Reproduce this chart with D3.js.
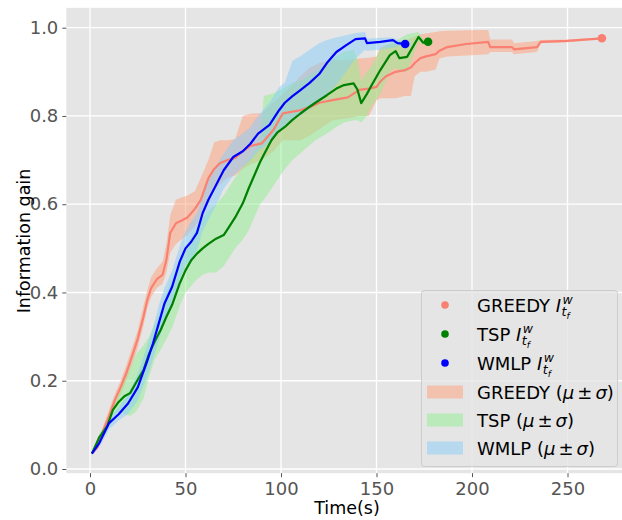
<!DOCTYPE html>
<html>
<head>
<meta charset="utf-8">
<script src="https://cdn.jsdelivr.net/npm/d3@7"></script>
<style>
  body { margin: 0; background: #fff; }
  text { font-family: "DejaVu Sans", sans-serif; }
</style>
</head>
<body>
<svg id="chart" width="622" height="520"></svg>
<script>
// values: time (s), mean, mean - sigma, mean + sigma
const greedyT    = [1, 4, 7, 10, 13, 16, 19, 22, 25, 28, 30, 32, 35, 38, 40, 42, 45, 48, 51, 55, 58, 62, 65, 68, 72, 76, 80, 84, 90, 96, 101, 106, 110, 115, 120, 127, 135, 141, 146, 150, 152, 155, 160, 165, 168, 170, 173, 176, 181, 183, 187, 197, 208.5, 209.5, 221, 222, 234, 236, 250, 268];
const greedyMean = [0.035, 0.05, 0.088, 0.12, 0.156, 0.185, 0.217, 0.255, 0.295, 0.345, 0.383, 0.41, 0.43, 0.44, 0.474, 0.535, 0.557, 0.563, 0.57, 0.59, 0.61, 0.659, 0.68, 0.693, 0.7, 0.705, 0.72, 0.732, 0.738, 0.768, 0.806, 0.81, 0.813, 0.82, 0.83, 0.836, 0.842, 0.859, 0.862, 0.866, 0.878, 0.89, 0.9, 0.904, 0.91, 0.92, 0.931, 0.935, 0.94, 0.948, 0.956, 0.963, 0.968, 0.956, 0.956, 0.951, 0.956, 0.968, 0.97, 0.976];
const greedyLo   = [0.033, 0.045, 0.075, 0.105, 0.14, 0.168, 0.2, 0.235, 0.275, 0.325, 0.365, 0.39, 0.41, 0.42, 0.445, 0.49, 0.51, 0.52, 0.53, 0.55, 0.57, 0.61, 0.63, 0.645, 0.66, 0.665, 0.68, 0.69, 0.7, 0.72, 0.745, 0.745, 0.745, 0.755, 0.77, 0.79, 0.795, 0.8, 0.8, 0.835, 0.84, 0.84, 0.84, 0.845, 0.845, 0.89, 0.9, 0.9, 0.905, 0.93, 0.935, 0.937, 0.94, 0.945, 0.945, 0.94, 0.945, 0.965, 0.967, 0.974];
const greedyHi   = [0.037, 0.056, 0.098, 0.135, 0.17, 0.2, 0.235, 0.275, 0.315, 0.37, 0.405, 0.435, 0.455, 0.47, 0.51, 0.575, 0.61, 0.615, 0.62, 0.63, 0.66, 0.7, 0.74, 0.745, 0.745, 0.748, 0.8, 0.805, 0.806, 0.83, 0.85, 0.87, 0.89, 0.91, 0.92, 0.927, 0.927, 0.93, 0.932, 0.935, 0.955, 0.96, 0.965, 0.972, 0.976, 0.98, 0.985, 0.987, 0.99, 0.992, 0.993, 0.994, 0.995, 0.973, 0.973, 0.965, 0.97, 0.972, 0.973, 0.978];

const tspT    = [1, 5, 9, 12, 15, 18, 21, 24, 28, 31, 34, 37, 40, 43, 47, 50, 53, 56, 59, 62, 66, 70, 73, 76, 80, 83, 86, 89, 91, 95, 98, 102, 106, 110, 114, 118, 124, 129, 133, 138, 140, 142, 145, 147, 152, 157, 160, 162, 166, 172, 174.5, 177];
const tspMean = [0.035, 0.073, 0.097, 0.134, 0.152, 0.165, 0.172, 0.195, 0.224, 0.262, 0.29, 0.315, 0.345, 0.372, 0.421, 0.45, 0.473, 0.488, 0.5, 0.51, 0.522, 0.53, 0.55, 0.57, 0.602, 0.635, 0.665, 0.695, 0.712, 0.745, 0.762, 0.775, 0.791, 0.805, 0.818, 0.83, 0.847, 0.862, 0.87, 0.874, 0.86, 0.829, 0.85, 0.866, 0.904, 0.938, 0.947, 0.931, 0.934, 0.979, 0.966, 0.968];
const tspLo   = [0.033, 0.065, 0.085, 0.12, 0.13, 0.125, 0.12, 0.13, 0.16, 0.21, 0.25, 0.27, 0.295, 0.32, 0.37, 0.4, 0.415, 0.43, 0.44, 0.445, 0.445, 0.46, 0.48, 0.5, 0.52, 0.54, 0.57, 0.6, 0.61, 0.635, 0.655, 0.68, 0.7, 0.715, 0.73, 0.745, 0.76, 0.775, 0.785, 0.79, 0.79, 0.785, 0.8, 0.82, 0.85, 0.9, 0.91, 0.9, 0.9, 0.97, 0.96, 0.965];
const tspHi   = [0.037, 0.08, 0.11, 0.15, 0.175, 0.2, 0.23, 0.26, 0.28, 0.3, 0.33, 0.36, 0.4, 0.43, 0.47, 0.5, 0.525, 0.545, 0.57, 0.585, 0.6, 0.62, 0.64, 0.66, 0.685, 0.7, 0.72, 0.74, 0.845, 0.85, 0.855, 0.865, 0.875, 0.88, 0.89, 0.9, 0.92, 0.935, 0.945, 0.95, 0.93, 0.88, 0.9, 0.91, 0.95, 0.965, 0.97, 0.975, 0.985, 0.99, 0.972, 0.971];

const wmlpT    = [1, 5, 10, 15, 20, 25, 30, 33, 36, 39, 43, 47, 50, 53, 56, 59, 62, 65, 70, 75, 80, 84, 88, 94, 99, 102, 106, 110, 115, 120, 124, 129, 134, 139, 144, 145, 152, 158.6, 161, 165];
const wmlpMean = [0.035, 0.06, 0.104, 0.124, 0.149, 0.185, 0.245, 0.285, 0.33, 0.375, 0.413, 0.47, 0.5, 0.515, 0.535, 0.58, 0.61, 0.635, 0.677, 0.707, 0.72, 0.737, 0.76, 0.78, 0.813, 0.83, 0.845, 0.858, 0.875, 0.895, 0.92, 0.945, 0.96, 0.974, 0.976, 0.965, 0.968, 0.972, 0.965, 0.963];
const wmlpLo   = [0.033, 0.05, 0.09, 0.11, 0.125, 0.155, 0.21, 0.25, 0.29, 0.335, 0.375, 0.43, 0.46, 0.475, 0.495, 0.54, 0.565, 0.59, 0.635, 0.665, 0.685, 0.7, 0.72, 0.74, 0.765, 0.775, 0.79, 0.8, 0.815, 0.83, 0.85, 0.87, 0.9, 0.93, 0.95, 0.948, 0.95, 0.955, 0.958, 0.96];
const wmlpHi   = [0.037, 0.07, 0.115, 0.14, 0.17, 0.215, 0.28, 0.32, 0.37, 0.41, 0.45, 0.505, 0.54, 0.56, 0.58, 0.62, 0.655, 0.68, 0.715, 0.745, 0.76, 0.775, 0.8, 0.83, 0.865, 0.875, 0.925, 0.935, 0.95, 0.965, 0.972, 0.978, 0.983, 0.988, 0.99, 0.975, 0.977, 0.978, 0.972, 0.966];

const xTicks = [0, 50, 100, 150, 200, 250];
const yTicks = [0.0, 0.2, 0.4, 0.6, 0.8, 1.0];

const series = [
  {name: "GREEDY", t: greedyT, mean: greedyMean, lo: greedyLo, hi: greedyHi, line: "#fa8072", band: "#ffa07a"},
  {name: "TSP",    t: tspT,    mean: tspMean,    lo: tspLo,    hi: tspHi,    line: "#008000", band: "#90ee90"},
  {name: "WMLP",   t: wmlpT,   mean: wmlpMean,   lo: wmlpLo,   hi: wmlpHi,   line: "#0000ff", band: "#87cefa"}
];

const svg = d3.select("#chart");

const x = d3.scaleLinear().domain([0, 250]).range([90, 567.5]);
const y = d3.scaleLinear().domain([0, 1]).range([469, 27.7]);

const pLeft = x(-12.4), pRight = x(281.4), pTop = y(1.045), pBottom = y(-0.0095);

svg.append("defs").append("clipPath").attr("id", "clip")
   .append("rect").attr("x", pLeft).attr("y", pTop)
   .attr("width", pRight - pLeft).attr("height", pBottom - pTop);

svg.append("rect")
   .attr("x", pLeft).attr("y", pTop)
   .attr("width", pRight - pLeft).attr("height", pBottom - pTop)
   .attr("fill", "#e5e5e5");

// grid
svg.append("g").selectAll("line").data(xTicks).join("line")
   .attr("x1", d => x(d)).attr("x2", d => x(d))
   .attr("y1", pTop).attr("y2", pBottom)
   .attr("stroke", "#fff").attr("stroke-width", 1.3);
svg.append("g").selectAll("line").data(yTicks).join("line")
   .attr("x1", pLeft).attr("x2", pRight)
   .attr("y1", d => y(d)).attr("y2", d => y(d))
   .attr("stroke", "#fff").attr("stroke-width", 1.3);

// axes
const xAxis = svg.append("g")
   .attr("transform", `translate(0,${pBottom})`)
   .call(d3.axisBottom(x).tickValues(xTicks).tickFormat(d3.format("d")).tickSizeOuter(0).tickSize(4).tickPadding(5));
const yAxis = svg.append("g")
   .attr("transform", `translate(${pLeft},0)`)
   .call(d3.axisLeft(y).tickValues(yTicks).tickFormat(d3.format(".1f")).tickSizeOuter(0).tickSize(4).tickPadding(4));
[xAxis, yAxis].forEach(a => {
  a.select(".domain").remove();
  a.selectAll(".tick line").attr("stroke", "#555").attr("stroke-width", 1);
  a.selectAll(".tick text").attr("fill", "#555").style("font-size", "18px")
   .style("font-family", "DejaVu Sans, sans-serif");
});

svg.append("text")
   .attr("x", 347).attr("y", 514)
   .attr("text-anchor", "middle")
   .style("font-size", "17.5px")
   .text("Time(s)");
svg.append("text")
   .attr("transform", "translate(30,241) rotate(-90)")
   .attr("text-anchor", "middle")
   .style("font-size", "17.5px")
   .text("Information gain");

const plot = svg.append("g").attr("clip-path", "url(#clip)");

const area = d3.area()
   .x(d => x(d.t)).y0(d => y(d.lo)).y1(d => y(d.hi));
const line = d3.line()
   .x(d => x(d.t)).y(d => y(d.mean));

series.forEach(s => {
  s.rows = s.t.map((t, i) => ({t: t, mean: s.mean[i], lo: s.lo[i], hi: s.hi[i]}));
});

series.forEach(s => {
  plot.append("path").datum(s.rows)
      .attr("d", area)
      .attr("fill", s.band).attr("fill-opacity", 0.5);
});
series.forEach(s => {
  plot.append("path").datum(s.rows)
      .attr("d", line)
      .attr("fill", "none")
      .attr("stroke", s.line).attr("stroke-width", 2.2)
      .attr("stroke-linejoin", "round");
});
series.forEach(s => {
  const last = s.rows[s.rows.length - 1];
  plot.append("circle")
      .attr("cx", x(last.t)).attr("cy", y(last.mean))
      .attr("r", 4.3).attr("fill", s.line);
});

// legend
const lg = svg.append("g");
lg.append("rect")
  .attr("x", 421.5).attr("y", 290.5).attr("width", 196).attr("height", 176)
  .attr("rx", 3).attr("fill", "#e5e5e5").attr("fill-opacity", 0.8)
  .attr("stroke", "#cccccc").attr("stroke-width", 1);

const rowY = [305, 334, 363, 392, 420, 448];
const textX = 477;

series.forEach((s, i) => {
  const cy = rowY[i];
  lg.append("circle").attr("cx", 445).attr("cy", cy).attr("r", 3.8).attr("fill", s.line);
  const t = lg.append("text").attr("x", textX).attr("y", cy + 6.5).style("font-size", "18px");
  t.append("tspan").text(s.name + " ");
  t.append("tspan").style("font-style", "italic").text("I");
  const w = t.node().getComputedTextLength();
  t.append("tspan").attr("x", textX + w + 1.5).attr("dy", -8)
    .style("font-size", "12.5px").style("font-style", "italic").text("w");
  t.append("tspan").attr("x", textX + w + 0.5).attr("dy", 12.5)
    .style("font-size", "12.5px").style("font-style", "italic").text("t");
  t.append("tspan").attr("dy", 3).style("font-size", "9px").style("font-style", "italic").text("f");
});

series.forEach((s, i) => {
  const cy = rowY[i + 3];
  lg.append("rect").attr("x", 427).attr("y", cy - 6.5).attr("width", 36).attr("height", 13)
    .attr("fill", s.band).attr("fill-opacity", 0.5);
  const t = lg.append("text").attr("x", textX).attr("y", cy + 6.5).style("font-size", "18px");
  t.append("tspan").text(s.name + " (");
  t.append("tspan").style("font-style", "italic").text("μ");
  t.append("tspan").attr("dx", 3).text("±");
  t.append("tspan").attr("dx", 3).style("font-style", "italic").text("σ");
  t.append("tspan").text(")");
});
</script>
</body>
</html>
